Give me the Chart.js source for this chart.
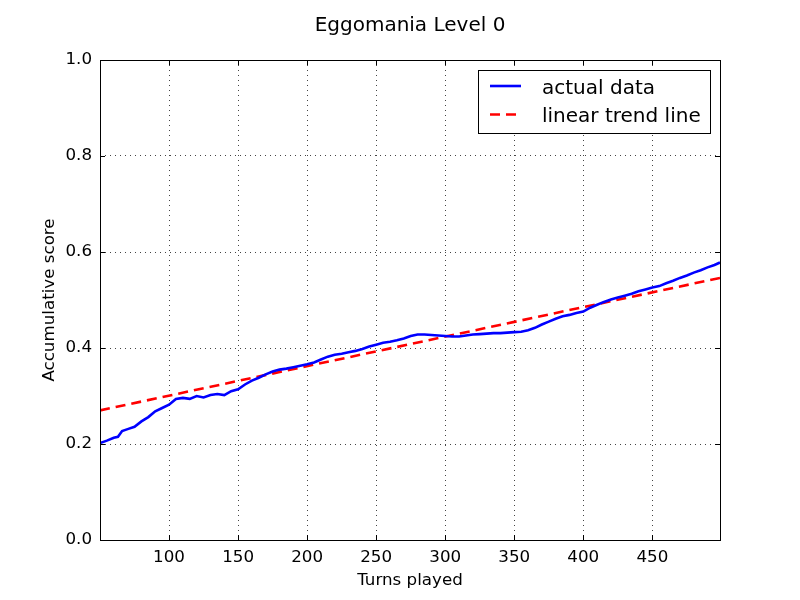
<!DOCTYPE html>
<html>
<head>
<meta charset="utf-8">
<title>Eggomania Level 0</title>
<script src="https://cdn.jsdelivr.net/npm/chart.js@4.4.0/dist/chart.umd.min.js"></script>
<style>
  html, body { margin: 0; padding: 0; background: #fff; }
  #wrap { width: 800px; height: 600px; }
</style>
</head>
<body>
<div id="wrap"><canvas id="scoreChart" width="800" height="600"></canvas></div>
<script>
// Values
const turns = [
  50, 55, 60, 63, 66, 70, 75, 80, 85, 90, 95, 100, 105, 110, 115, 120, 125, 130,
  135, 140, 145, 150, 155, 160, 165, 170, 175, 180, 185, 190, 195, 200, 205, 210,
  215, 220, 225, 230, 235, 240, 245, 250, 255, 260, 265, 270, 275, 280, 285, 290,
  295, 300, 305, 310, 315, 320, 325, 330, 335, 340, 345, 350, 355, 360, 365, 370,
  375, 380, 385, 390, 395, 400, 405, 410, 415, 420, 425, 430, 435, 440, 445, 450,
  455, 460, 465, 470, 475, 480, 485, 490, 495, 499
];
const actualScore = [
  0.202, 0.207, 0.213, 0.215, 0.227, 0.231, 0.236, 0.247, 0.256, 0.268, 0.275, 0.282,
  0.294, 0.296, 0.294, 0.300, 0.297, 0.302, 0.304, 0.302, 0.310, 0.314, 0.324, 0.332,
  0.338, 0.345, 0.351, 0.355, 0.357, 0.360, 0.363, 0.366, 0.370, 0.376, 0.382, 0.386,
  0.388, 0.391, 0.394, 0.398, 0.403, 0.407, 0.411, 0.413, 0.416, 0.420, 0.425, 0.428,
  0.428, 0.427, 0.426, 0.425, 0.424, 0.424, 0.426, 0.428, 0.429, 0.430, 0.431, 0.431,
  0.432, 0.433, 0.434, 0.437, 0.442, 0.449, 0.455, 0.461, 0.466, 0.469, 0.473, 0.476,
  0.484, 0.490, 0.496, 0.501, 0.505, 0.509, 0.513, 0.518, 0.522, 0.526, 0.529, 0.535,
  0.540, 0.546, 0.551, 0.557, 0.562, 0.568, 0.573, 0.578
];
const trendTurns = [50, 499];
const trendScore = [0.270, 0.546];
const xTickValues = [100, 150, 200, 250, 300, 350, 400, 450];
const yTickValues = [0, 0.2, 0.4, 0.6, 0.8, 1.0];
const seriesLabels = ['actual data', 'linear trend line'];

const FONT = 'DejaVu Sans';

// Black frame round the plot area, with short inward tick marks on all sides
const framePlugin = {
  id: 'frame',
  afterDatasetsDraw(chart) {
    const { ctx, chartArea: a, scales } = chart;
    ctx.save();
    ctx.strokeStyle = '#000';
    ctx.lineWidth = 1;
    ctx.beginPath();
    xTickValues.forEach(v => {
      const px = Math.round(scales.x.getPixelForValue(v)) + 0.5;
      ctx.moveTo(px, a.bottom); ctx.lineTo(px, a.bottom - 5);
      ctx.moveTo(px, a.top); ctx.lineTo(px, a.top + 5);
    });
    yTickValues.forEach(v => {
      const py = Math.round(scales.y.getPixelForValue(v)) + 0.5;
      ctx.moveTo(a.left, py); ctx.lineTo(a.left + 5, py);
      ctx.moveTo(a.right, py); ctx.lineTo(a.right - 5, py);
    });
    ctx.stroke();
    ctx.strokeRect(Math.round(a.left) + 0.5, Math.round(a.top) + 0.5,
      Math.round(a.right - a.left), Math.round(a.bottom - a.top));
    ctx.restore();
  }
};

// Boxed legend in the upper right corner, like the original
const boxLegendPlugin = {
  id: 'boxLegend',
  afterDraw(chart) {
    const { ctx, chartArea: a } = chart;
    const sets = chart.data.datasets;
    ctx.save();
    ctx.font = '20px "' + FONT + '"';
    const textW = Math.max(...sets.map(d => ctx.measureText(d.label).width));
    const w = Math.round(12 + 31 + 21 + textW + 9);
    const h = 63;
    const right = Math.round(a.right) - 10;
    const top = Math.round(a.top) + 10;
    const left = right - w;
    ctx.fillStyle = '#fff';
    ctx.fillRect(left, top, w, h);
    ctx.strokeStyle = '#000';
    ctx.lineWidth = 1;
    ctx.strokeRect(left + 0.5, top + 0.5, w, h);
    sets.forEach((d, i) => {
      const y = top + 16 + i * 28.5;
      ctx.strokeStyle = d.borderColor;
      ctx.lineWidth = d.borderWidth;
      ctx.setLineDash(d.borderDash || []);
      ctx.beginPath();
      ctx.moveTo(left + 12, y);
      ctx.lineTo(left + 43, y);
      ctx.stroke();
      ctx.setLineDash([]);
      ctx.fillStyle = '#000';
      ctx.textBaseline = 'middle';
      ctx.fillText(d.label, left + 64, y + 2.5);
    });
    ctx.restore();
  }
};

const ctx = document.getElementById('scoreChart').getContext('2d');
const scoreChart = new Chart(ctx, {
  type: 'line',
  data: {
    datasets: [
      {
        label: seriesLabels[0],
        data: turns.map((t, i) => ({ x: t, y: actualScore[i] })),
        borderColor: '#0000ff',
        borderWidth: 2.6,
        pointRadius: 0,
        tension: 0,
        fill: false
      },
      {
        label: seriesLabels[1],
        data: trendTurns.map((t, i) => ({ x: t, y: trendScore[i] })),
        borderColor: '#ff0000',
        borderWidth: 2.6,
        borderDash: [10, 6],
        pointRadius: 0,
        tension: 0,
        fill: false
      }
    ]
  },
  options: {
    responsive: false,
    animation: false,
    layout: { padding: { left: 0, right: 80, top: 0, bottom: 0 } },
    plugins: {
      legend: { display: false },
      tooltip: { enabled: false },
      title: {
        display: true,
        text: 'Eggomania Level 0',
        color: '#000',
        fullSize: false,
        font: { family: FONT, size: 20, weight: 'normal' },
        padding: { top: 14, bottom: 22 }
      }
    },
    scales: {
      x: {
        type: 'linear',
        min: 50,
        max: 499,
        afterBuildTicks: scale => { scale.ticks = xTickValues.map(v => ({ value: v })); },
        afterFit: scale => { scale.height = 60; },
        grid: { color: '#444', lineWidth: 1, drawTicks: false },
        border: { display: false, dash: [1, 4] },
        ticks: {
          color: '#000',
          padding: 8,
          maxRotation: 0,
          autoSkip: false,
          font: { family: FONT, size: 16.7 },
          callback: v => String(v)
        },
        title: {
          display: true,
          text: 'Turns played',
          color: '#000',
          font: { family: FONT, size: 16.7 },
          padding: { top: 0, bottom: 9 }
        }
      },
      y: {
        min: 0,
        max: 1,
        afterBuildTicks: scale => { scale.ticks = yTickValues.map(v => ({ value: v })); },
        afterFit: scale => { scale.width = 100; },
        grid: { color: '#444', lineWidth: 1, drawTicks: false },
        border: { display: false, dash: [1, 4] },
        ticks: {
          color: '#000',
          padding: 8,
          font: { family: FONT, size: 16.7 },
          callback: v => Number(v).toFixed(1)
        },
        title: {
          display: true,
          text: 'Accumulative score',
          color: '#000',
          font: { family: FONT, size: 16.7 },
          padding: { top: 40, bottom: 0 }
        }
      }
    }
  },
  plugins: [framePlugin, boxLegendPlugin]
});
</script>
</body>
</html>
